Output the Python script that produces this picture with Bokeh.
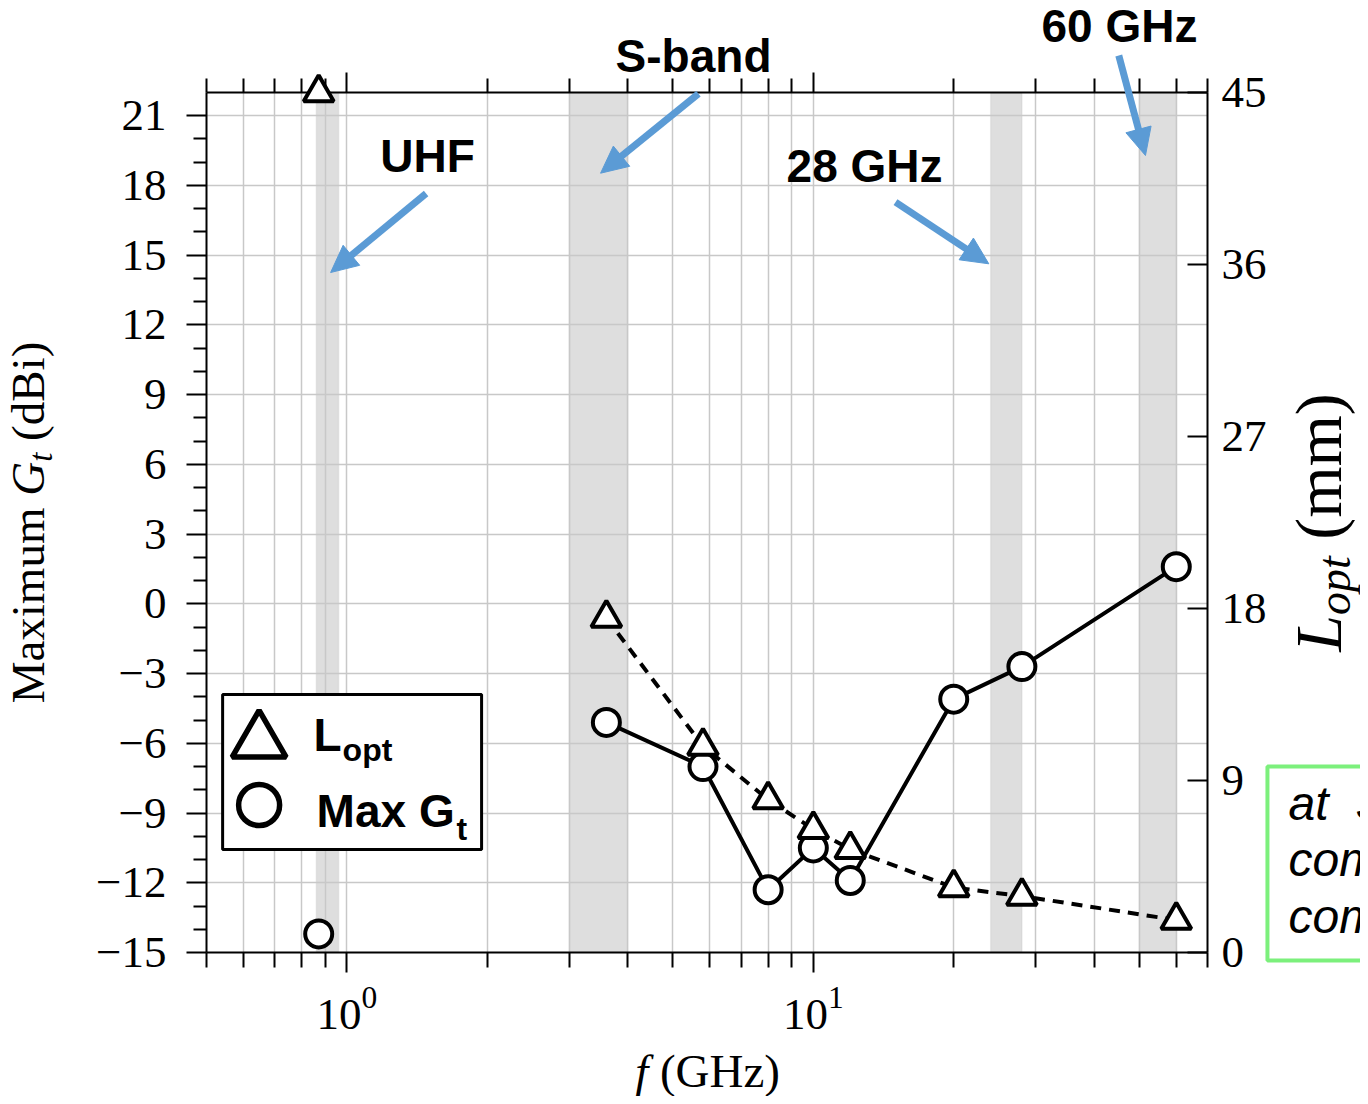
import math
from bokeh.plotting import figure
from bokeh.models import (Range1d, LinearAxis, LogAxis, FixedTicker, BoxAnnotation,
                          CustomJSTickFormatter, ColumnDataSource)
from bokeh.core.properties import value
from bokeh.embed import file_html
from bokeh.resources import INLINE

# ---------------- data ----------------
freq_ghz = [0.87, 3.6, 5.8, 8.0, 10.0, 12.0, 20.0, 28.0, 60.0]
max_gt_dbi = [-14.2, -5.1, -7.0, -12.3, -10.5, -11.9, -4.1, -2.7, 1.6]
l_opt_mm = [45.0, 17.5, 10.8, 8.0, 6.45, 5.4, 3.4, 2.95, 1.7]

band_labels = ["UHF", "S-band", "28 GHz", "60 GHz"]
band_lo_ghz = [0.86, 3.0, 24.0, 50.0]
band_hi_ghz = [0.96, 4.0, 28.0, 60.0]

x_major_ticks = [1, 10]
x_minor_ticks = [0.5, 0.6, 0.7, 0.8, 0.9, 2, 3, 4, 5, 6, 7, 8, 9, 20, 30, 40, 50, 60, 70]
left_ticks = [-15, -12, -9, -6, -3, 0, 3, 6, 9, 12, 15, 18, 21]
left_minor_ticks = [-14, -13, -11, -10, -8, -7, -5, -4, -2, -1, 1, 2, 4, 5, 7, 8,
                    10, 11, 13, 14, 16, 17, 19, 20]
right_ticks = [0, 9, 18, 27, 36, 45]

# ---------------- layout helpers (picture pixel -> data coords) ----------------
X0_PX, DEC_PX = 346.3, 466.5
Y_BOTTOM_PX, Y_PX_PER_UNIT = 952.0, 860.0 / 37.0
BASELINE_K = 0.39   # text glyph anchor sits this many em above the drawn baseline


def gx(px):
    return 10 ** ((px - X0_PX) / DEC_PX)


def gy(py):
    return -15 + (Y_BOTTOM_PX - py) / Y_PX_PER_UNIT


SERIF = "Liberation Serif"
SANS = "Liberation Sans"
BLUE = "#5b9bd5"
GRID = "#c8c8c8"

W, H = 1360, 1096
p = figure(width=W, height=H, x_axis_type="log",
           x_range=Range1d(0.5, 70), y_range=Range1d(-15, 22),
           output_backend="svg", toolbar_location=None,
           min_border_left=206, min_border_right=W - 1207,
           min_border_top=92, min_border_bottom=H - 952)
p.extra_y_ranges = {"right": Range1d(0, 45)}
p.outline_line_color = None
p.background_fill_color = "white"
p.border_fill_color = "white"

xt = FixedTicker(ticks=x_major_ticks, minor_ticks=x_minor_ticks)
lt = FixedTicker(ticks=left_ticks, minor_ticks=left_minor_ticks)
rt = FixedTicker(ticks=right_ticks, minor_ticks=[])


def style_axis(ax):
    ax.axis_line_width = 2
    ax.axis_line_color = "black"
    ax.major_tick_line_width = 2
    ax.minor_tick_line_width = 2
    ax.major_tick_line_color = "black"
    ax.minor_tick_line_color = "black"
    ax.major_label_text_font = SERIF
    ax.major_label_text_font_size = "45px"
    ax.major_label_text_color = "black"


# bottom axis
bx = p.xaxis[0]
bx.ticker = xt
style_axis(bx)
bx.major_tick_in, bx.major_tick_out = 0, 20
bx.minor_tick_in, bx.minor_tick_out = 0, 15
bx.major_label_standoff = 15

# top axis (ticks only)
tx = LogAxis(ticker=xt, formatter=CustomJSTickFormatter(code="return ''"))
style_axis(tx)
tx.major_tick_in, tx.major_tick_out = 0, 20
tx.minor_tick_in, tx.minor_tick_out = 0, 14
tx.major_label_standoff = 0
p.add_layout(tx, "above")

# left axis
ly = p.yaxis[0]
ly.ticker = lt
ly.formatter = CustomJSTickFormatter(code="return tick < 0 ? '\u2212' + String(-tick) : String(tick)")
style_axis(ly)
ly.major_tick_in, ly.major_tick_out = 0, 20
ly.minor_tick_in, ly.minor_tick_out = 0, 13
ly.major_label_standoff = 20

# right axis
ry = LinearAxis(y_range_name="right", ticker=rt)
style_axis(ry)
ry.major_tick_in, ry.major_tick_out = 20, 0
ry.minor_tick_in, ry.minor_tick_out = 0, 0
ry.major_label_standoff = 14
p.add_layout(ry, "right")

# grids
p.xgrid.ticker = xt
p.xgrid.grid_line_color = GRID
p.xgrid.grid_line_width = 1.5
p.xgrid.minor_grid_line_color = GRID
p.xgrid.minor_grid_line_width = 1.5
p.ygrid.ticker = FixedTicker(ticks=left_ticks)
p.ygrid.grid_line_color = GRID
p.ygrid.grid_line_width = 1.5

# frequency bands
for lo, hi in zip(band_lo_ghz, band_hi_ghz):
    p.add_layout(BoxAnnotation(left=lo, right=hi, fill_color="#dedede", fill_alpha=1.0,
                               line_color="#c4c4c4", line_width=1.5, level="image"))

# data
src = ColumnDataSource(dict(f=freq_ghz, gt=max_gt_dbi, lopt=l_opt_mm))
line_src = ColumnDataSource(dict(f=freq_ghz[1:], gt=max_gt_dbi[1:], lopt=l_opt_mm[1:]))

p.line("f", "gt", source=line_src, line_color="black", line_width=4)
p.scatter("f", "gt", source=src, marker="circle", size=27, line_width=4,
          line_color="black", fill_color="white")
p.line("f", "lopt", source=line_src, y_range_name="right", line_color="black",
       line_width=4, line_dash="11 8")
p.scatter("f", "lopt", source=src, y_range_name="right", marker="triangle", size=30,
          line_width=4, line_color="black", fill_color="white", level="annotation")

# legend (drawn by hand)
p.quad(left=[gx(222)], right=[gx(481)], top=[gy(694)], bottom=[gy(849)],
       fill_color="white", line_color="black", line_width=3)
p.scatter(x=[gx(258.5)], y=[gy(741)], marker="triangle", size=54, line_width=5.5,
          line_color="black", fill_color="white")
p.scatter(x=[gx(258.5)], y=[gy(804.5)], marker="circle", size=41, line_width=5.5,
          line_color="black", fill_color="white")


def txt(text, px, py, size, font=SANS, style="normal", align="left", angle=0.0):
    # px, py: where the drawn baseline should start (picture pixels)
    if angle:
        px = px - BASELINE_K * size
    else:
        py = py - BASELINE_K * size
    p.text(x=[gx(px)], y=[gy(py)], text=[text], text_font=value(font),
           text_font_size=value(f"{size}px"), text_font_style=style,
           text_align=align, text_baseline="alphabetic", angle=angle,
           text_color="black", level="overlay")


txt("L", 313, 752, 46, style="bold")
txt("opt", 342, 762, 32, style="bold")
txt("Max G", 316, 828, 46, style="bold")
txt("t", 456, 841, 32, style="bold")

# band annotations and arrows
label_pos = [(427, 173), (693, 73), (864, 183), (1119, 43)]
arrow_pos = [((425.5, 193), (330, 272)), ((697.9, 93.3), (600, 172.7)),
             ((895, 201.7), (988.3, 263.3)), ((1118.3, 55), (1145, 155))]
for text, (lx, lyy) in zip(band_labels, label_pos):
    txt(text, lx, lyy, 46, style="bold", align="center")

HEAD_L, HEAD_W = 27, 13
for (sx, sy), (ex, ey) in arrow_pos:
    dx, dy = ex - sx, ey - sy
    n = math.hypot(dx, dy)
    ux, uy = dx / n, dy / n
    bxp, byp = ex - ux * HEAD_L, ey - uy * HEAD_L
    p.segment(x0=[gx(sx)], y0=[gy(sy)], x1=[gx(bxp + ux * 3)], y1=[gy(byp + uy * 3)],
              line_color=BLUE, line_width=7, level="overlay")
    hx = [ex, bxp - uy * HEAD_W, bxp + uy * HEAD_W]
    hy = [ey, byp + ux * HEAD_W, byp - ux * HEAD_W]
    p.patch(x=[gx(v) for v in hx], y=[gy(v) for v in hy], fill_color=BLUE,
            line_color=BLUE, line_width=1, level="overlay")

# axis titles (composed so that italics / subscripts match)
F = 47
up = math.pi / 2
y0 = 522 + (4.167 * F + 0.25 * F + 0.722 * F + 0.278 * 33 + 0.25 * F + 2.111 * F) / 2
txt("Maximum", 46, y0, F, font=SERIF, angle=up)
yG = y0 - 4.167 * F - 0.25 * F
txt("G", 46, yG, F, font=SERIF, style="italic", angle=up)
yt = yG - 0.722 * F
txt("t", 53, yt, 33, font=SERIF, style="italic", angle=up)
yb = yt - 0.278 * 33 - 0.25 * F
txt("(dBi)", 46, yb, F, font=SERIF, angle=up)

fx0 = 707 - (0.278 * F + 0.25 * F + 2.554 * F) / 2
txt("f", fx0, 1089, F, font=SERIF, style="italic")
txt("(GHz)", fx0 + 0.278 * F + 0.25 * F, 1089, F, font=SERIF)

R = 66
r_len = 0.556 * R + 1.278 * 46 + 0.25 * R + 2.222 * R
ry0 = 522 + r_len / 2
txt("L", 1344, ry0, R, font=SERIF, style="italic", angle=up)
txt("opt", 1352, ry0 - 0.556 * R, 46, font=SERIF, style="italic", angle=up)
txt("(mm)", 1344, ry0 - 0.556 * R - 1.278 * 46 - 0.25 * R, R, font=SERIF, angle=up)

# green note box, cut by the page edge
p.quad(left=[gx(1267)], right=[gx(1440)], top=[gy(766)], bottom=[gy(960)],
       fill_color="white", line_color="#7cf07c", line_width=4, level="overlay")
for t_, tx_, ty_ in [("at", 1288, 822), ("S", 1355, 822), ("com", 1288, 878), ("com", 1288, 935)]:
    txt(t_, tx_, ty_, 48, style="italic")

open("out.html", "w").write(file_html(p, INLINE))
